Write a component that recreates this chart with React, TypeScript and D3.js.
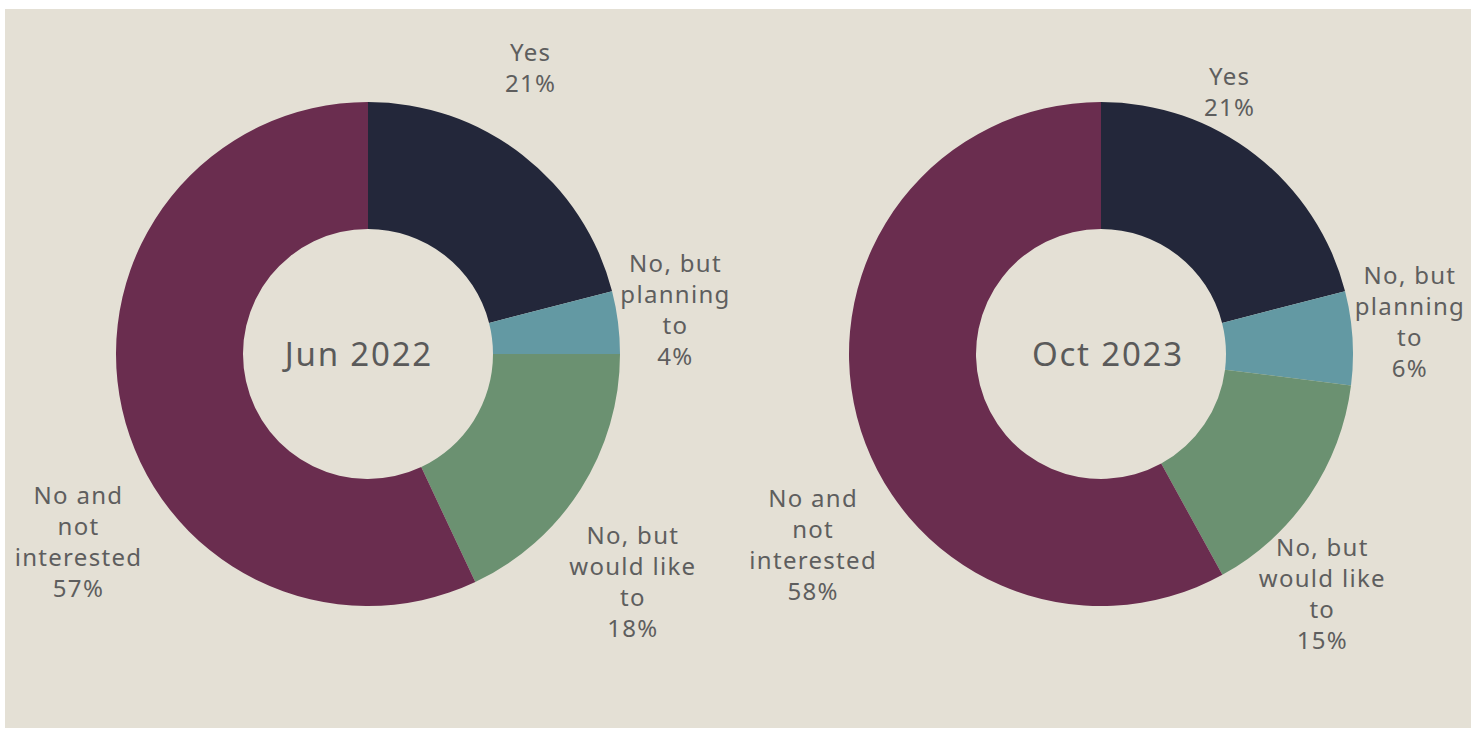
import * as d3 from "d3";

const categories = ["Yes", "No, but planning to", "No, but would like to", "No and not interested"];
const labelLines = [["Yes"], ["No, but", "planning", "to"], ["No, but", "would like", "to"], ["No and", "not", "interested"]];
const colors = ["#23273a", "#6399a3", "#6b9171", "#6a2d4f"];

const periods = ["Jun 2022", "Oct 2023"];
const valuesJun2022 = [21, 4, 18, 57];
const valuesOct2023 = [21, 6, 15, 58];
const seriesValues = [valuesJun2022, valuesOct2023];

// label placement (angle in degrees clockwise from top, radius from centre)
const labelPolar = [
  [
    [29.5, 329],
    [81.8, 310],
    [130.8, 349],
    [237, 346],
  ],
  [
    [26, 292],
    [84, 310],
    [137.4, 326],
    [236.5, 346],
  ],
];
// horizontal nudge of the centre title
const titleShift = [-10, 6];

const W = 1477;
const H = 733;
const outerR = 252;
const innerR = 125;
const centers = [368, 1101];
const cy = 354;
const lineH = 31;
const font = "'Noto Sans', sans-serif";

function Donut({ idx }: { idx: number }) {
  const values = seriesValues[idx];
  const pie = d3.pie<number>().sort(null).value((d) => d);
  const arcs = pie(values);
  const arc = d3.arc<d3.PieArcDatum<number>>().innerRadius(innerR).outerRadius(outerR);
  return (
    <g transform={`translate(${centers[idx]},${cy})`}>
      {arcs.map((a, i) => (
        <path key={i} d={arc(a) ?? ""} fill={colors[i]} />
      ))}
      {arcs.map((a, i) => {
        const [deg, r] = labelPolar[idx][i];
        const ang = (deg * Math.PI) / 180;
        const x = r * Math.sin(ang);
        const y = -r * Math.cos(ang) - 1;
        const lines = [...labelLines[i], `${values[i]}%`];
        const y0 = y - ((lines.length - 1) * lineH) / 2;
        return (
          <text
            key={`l${i}`}
            textAnchor="middle"
            fill="#5e5e5e"
            fontSize={24}
            letterSpacing={1.3}
            fontFamily={font}
          >
            {lines.map((ln, j) => (
              <tspan key={j} x={x + 0.65} y={y0 + j * lineH} dominantBaseline="central">
                {ln}
              </tspan>
            ))}
          </text>
        );
      })}
      <text
        x={0.9 + titleShift[idx]}
        y={-1}
        textAnchor="middle"
        dominantBaseline="central"
        fill="#5a5a5a"
        fontSize={33}
        letterSpacing={1.8}
        fontFamily={font}
      >
        {periods[idx]}
      </text>
    </g>
  );
}

export default function App() {
  return (
    <svg
      width={W}
      height={H}
      viewBox={`0 0 ${W} ${H}`}
      style={{ position: "absolute", left: 0, top: 0, background: "#ffffff" }}
    >
      <rect x={5} y={9} width={1466} height={719} fill="#e4e0d5" />
      <Donut idx={0} />
      <Donut idx={1} />
    </svg>
  );
}
